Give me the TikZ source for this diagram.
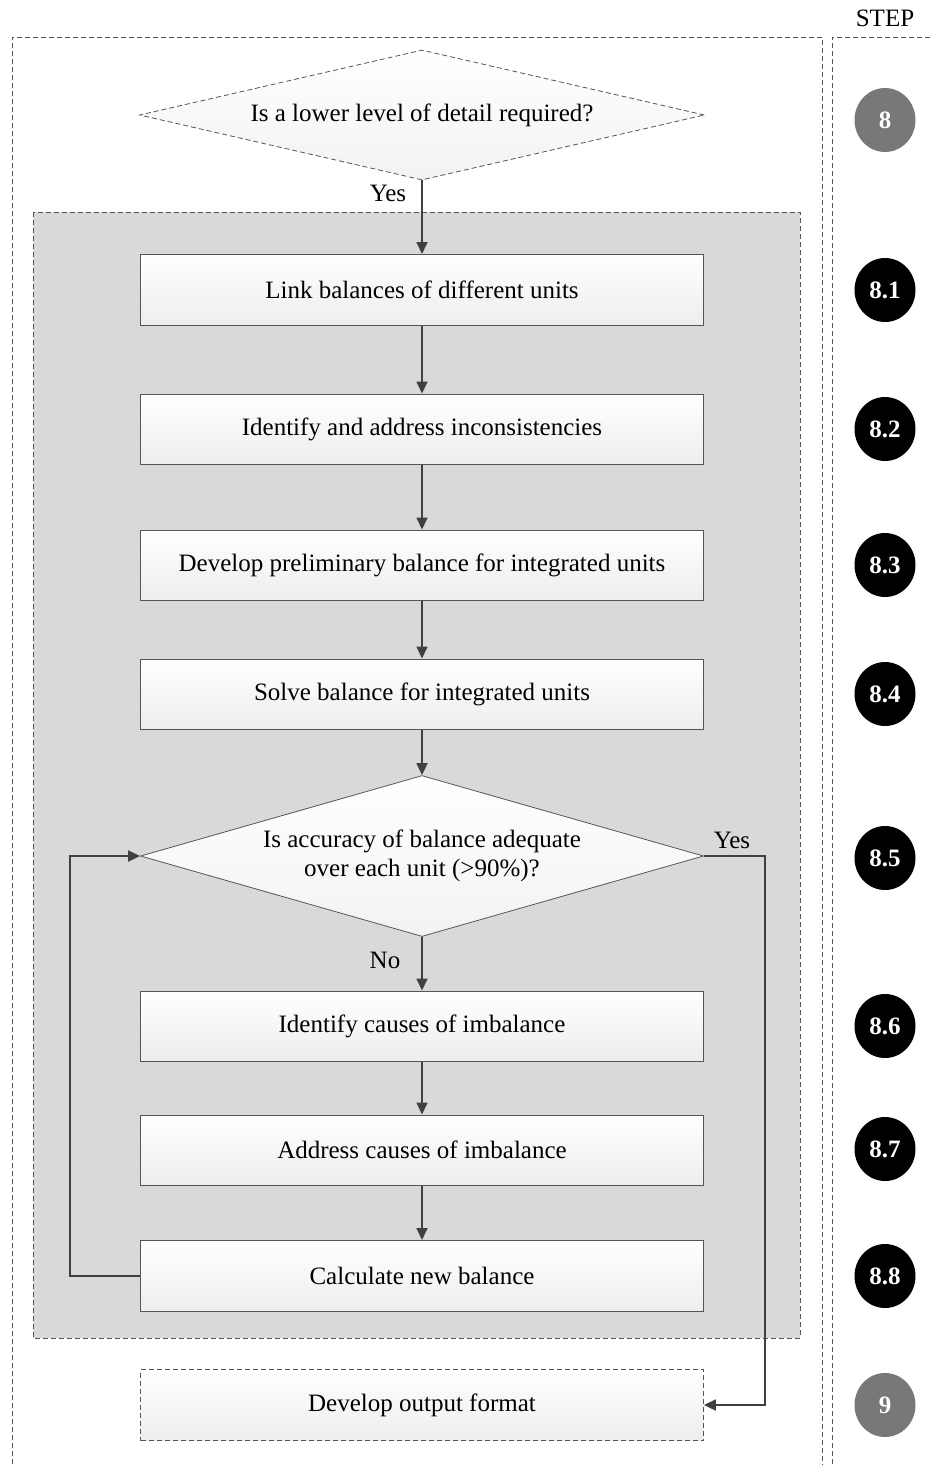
\documentclass[tikz,border=0pt]{standalone}
\usepackage{fontspec}
\setmainfont{Liberation Serif}
\usetikzlibrary{arrows.meta,shapes.geometric}
\definecolor{panel}{RGB}{217,217,217}
\definecolor{edge}{RGB}{85,85,85}
\definecolor{flow}{RGB}{64,64,64}
\definecolor{stepgrey}{RGB}{120,120,120}
\begin{document}
\begin{tikzpicture}[x=1pt,y=-1pt,
  txt/.style={font=\fontsize{25}{29}\selectfont},
  procbox/.style={draw=edge,line width=1pt,top color=white,bottom color=black!7,
    minimum width=563pt,minimum height=71pt,inner sep=0pt,txt,align=center},
  decision/.style={diamond,draw=edge,line width=0.8pt,top color=white,bottom color=black!5,
    aspect=4.33,inner sep=0pt,txt,align=center},
  flowline/.style={draw=flow,line width=1.8pt,-{Triangle[length=12pt,width=11pt]}},
  frame/.style={draw=edge,line width=0.8pt,dash pattern=on 5pt off 3pt},
  stepdot/.style={ellipse,minimum width=61pt,minimum height=64pt,inner sep=0pt,
    text=white,font=\bfseries\fontsize{25}{29}\selectfont},
  substep/.style={stepdot,fill=black},
  mainstep/.style={stepdot,fill=stepgrey}]
\useasboundingbox (0,0) rectangle (930,1465);

% outer dashed frames: flow column and step column
\draw[frame] (12,1480) -- (12,37) -- (822,37) -- (822,1480);
\draw[frame] (832,1480) -- (832,37) -- (945,37);
\node[txt,anchor=center] (steplbl) at (885,18) {STEP};

% grey panel holding the sub-steps
\draw[frame,fill=panel] (33,212) rectangle (800,1338);

% top decision
\node[decision,frame,minimum width=565pt,minimum height=130pt] (d8) at (422,115)
  {Is a lower level of detail required?};

% sub-step boxes
\node[procbox] (b1) at (422,290) {Link balances of different units};
\node[procbox,minimum height=70pt] (b2) at (422,429) {Identify and address inconsistencies};
\node[procbox,minimum height=70pt] (b3) at (422,565) {Develop preliminary balance for integrated units};
\node[procbox,minimum height=70pt] (b4) at (422,694) {Solve balance for integrated units};
\node[decision,minimum width=563pt,minimum height=161pt] (d5) at (422,856)
  {Is accuracy of balance adequate\\over each unit (>90\%)?};
\node[procbox,minimum height=70pt] (b6) at (422,1026) {Identify causes of imbalance};
\node[procbox,minimum height=70pt] (b7) at (422,1150) {Address causes of imbalance};
\node[procbox] (b8) at (422,1276) {Calculate new balance};
\node[procbox,frame,minimum height=71pt] (b9) at (422,1405) {Develop output format};

% connectors
\draw[flowline] (d8.south) -- (b1.north);
\draw[flowline] (b1.south) -- (b2.north);
\draw[flowline] (b2.south) -- (b3.north);
\draw[flowline] (b3.south) -- (b4.north);
\draw[flowline] (b4.south) -- (d5.north);
\draw[flowline] (d5.south) -- (b6.north);
\draw[flowline] (b6.south) -- (b7.north);
\draw[flowline] (b7.south) -- (b8.north);
\coordinate (loopl) at (70,0);
\coordinate (yesr) at (765,0);
\draw[flowline] (b8.west) -- (b8.west -| loopl) -- (d5.west -| loopl) -- (d5.west);
\draw[flowline] (d5.east) -- (d5.east -| yesr) -- (b9.east -| yesr) -- (b9.east);

% branch labels
\node[txt] (yes1) at (388,193) {Yes};
\node[txt] (yes2) at (732,840) {Yes};
\node[txt] (no1) at (385,960) {No};

% step markers
\node[mainstep] (s8) at (885,120) {8};
\node[substep] (s81) at (885,290) {8.1};
\node[substep] (s82) at (885,429) {8.2};
\node[substep] (s83) at (885,565) {8.3};
\node[substep] (s84) at (885,694) {8.4};
\node[substep] (s85) at (885,858) {8.5};
\node[substep] (s86) at (885,1026) {8.6};
\node[substep] (s87) at (885,1149) {8.7};
\node[substep] (s88) at (885,1276) {8.8};
\node[mainstep] (s9) at (885,1405) {9};
\end{tikzpicture}
\end{document}
